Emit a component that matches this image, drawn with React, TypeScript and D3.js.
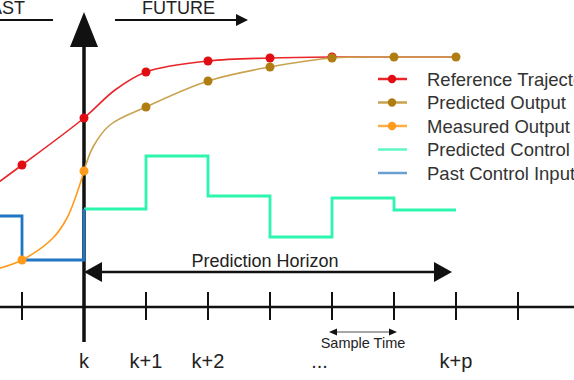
import React from "react";
import * as d3 from "d3";

const W = 574;
const H = 380;

// time grid (sample index relative to k)
const tickTimes = [-1, 0, 1, 2, 3, 4, 5, 6, 7];
const labelTimes = [0, 1, 2, 3.8, 6];
const labelTexts = ["k", "k+1", "k+2", "...", "k+p"];

// Reference trajectory (values in % of setpoint)
const refTimes = [-1.4, -1, 0, 0.5, 1, 2, 3, 4, 5, 6];
const refValues = [49.5, 56.8, 75.6, 86.8, 94, 98.4, 99.6, 100, 100, 100];
const refDotTimes = [-1, 0, 1, 2, 3, 4];
const refDotValues = [56.8, 75.6, 94, 98.4, 99.6, 100];

// Predicted output
const predTimes = [0, 0.145, 0.419, 1, 2, 3, 4, 5, 6];
const predValues = [54.4, 64, 72.8, 80, 90.4, 96, 99.6, 100, 100];
const predDotTimes = [1, 2, 3, 4, 5, 6];
const predDotValues = [80, 90.4, 96, 99.6, 100, 100];

// Measured output
const measTimes = [-1.4, -1, -0.5, -0.274, -0.113, 0];
const measValues = [15.2, 18.8, 27.6, 35.6, 45.6, 54.4];
const measDotTimes = [-1, 0];
const measDotValues = [18.8, 54.4];

// Predicted control (step, held from each time)
const ctrlTimes = [0, 1, 2, 3, 4, 5, 6];
const ctrlValues = [39.2, 60.4, 44.4, 28, 43.6, 38.8, 38.8];

// Past control input
const pastTimes = [-1.4, -1, 0];
const pastValues = [36.4, 18.8, 39.2];

const legendNames = [
  "Reference Trajectory",
  "Predicted Output",
  "Measured Output",
  "Predicted Control Input",
  "Past Control Input",
];
const legendLine = ["#e8262b", "#c9a24f", "#ffae45", "#5ff7c2", "#6a9fd2"];
const legendDot = ["#e00d12", "#b07d12", "#ff9a1a", "", ""];

const FONT = "'Liberation Sans', Arial, Helvetica, sans-serif";

export default function App() {
  const x = d3.scaleLinear().domain([-1, 7]).range([22, 518]);
  const y = d3.scaleLinear().domain([0, 100]).range([307, 57]);

  const smooth = d3
    .line<[number, number]>()
    .x((d) => x(d[0]))
    .y((d) => y(d[1]))
    .curve(d3.curveCatmullRom.alpha(0.5));
  const step = d3
    .line<[number, number]>()
    .x((d) => x(d[0]))
    .y((d) => y(d[1]))
    .curve(d3.curveStepAfter);

  const zip = (a: number[], b: number[]) => a.map((t, i) => [t, b[i]] as [number, number]);

  const x0 = x(0);
  const axisY = y(0);
  const phY = 272;

  return (
    <svg
      width={W}
      height={H}
      style={{ position: "absolute", left: 0, top: 0, background: "#fff" }}
      fontFamily={FONT}
    >
      <rect width={W} height={H} fill="#fff" />
      {/* PAST / FUTURE header */}
      <text x={25} y={14} fontSize={18} textAnchor="end" fill="#222">PAST</text>
      <line x1={0} x2={53} y1={20} y2={20} stroke="#111" strokeWidth={2} />
      <text x={142} y={14} fontSize={18} fill="#222">FUTURE</text>
      <line x1={115} x2={240} y1={20} y2={20} stroke="#111" strokeWidth={2} />
      <polygon points="248,20 236,14 236,26" fill="#111" />

      {/* time axis */}
      <line x1={0} x2={W} y1={axisY} y2={axisY} stroke="#111" strokeWidth={2.5} />
      {tickTimes.map((t) => (
        <line key={t} x1={x(t)} x2={x(t)} y1={292} y2={320} stroke="#111" strokeWidth={2} />
      ))}
      {labelTimes.map((t, i) => (
        <text key={i} x={x(t)} y={368} fontSize={20} textAnchor="middle" fill="#222">
          {labelTexts[i]}
        </text>
      ))}

      {/* vertical axis at k */}
      <line x1={x0} x2={x0} y1={44} y2={342} stroke="#111" strokeWidth={3.5} />
      <polygon points={`${x0},12 ${x0 - 14},47 ${x0 + 14},47`} fill="#111" />

      {/* sample time */}
      <line x1={x(4) + 4} x2={x(5) - 4} y1={332} y2={332} stroke="#888" strokeWidth={1.5} />
      <polygon points={`${x(4) - 3},332 ${x(4) + 5},328.5 ${x(4) + 5},335.5`} fill="#111" />
      <polygon points={`${x(5) + 3},332 ${x(5) - 5},328.5 ${x(5) - 5},335.5`} fill="#111" />
      <text x={(x(4) + x(5)) / 2} y={348} fontSize={14.5} textAnchor="middle" fill="#222">
        Sample Time
      </text>

      {/* prediction horizon */}
      <line x1={x0 + 14} x2={x(6) - 14} y1={phY} y2={phY} stroke="#111" strokeWidth={2.5} />
      <polygon points={`${x0},${phY} ${x0 + 18},${phY - 10} ${x0 + 18},${phY + 10}`} fill="#111" />
      <polygon
        points={`${x(6) - 4},${phY} ${x(6) - 22},${phY - 10} ${x(6) - 22},${phY + 10}`}
        fill="#111"
      />
      <text x={265} y={267} fontSize={18} textAnchor="middle" fill="#222">
        Prediction Horizon
      </text>

      {/* control signals */}
      <path d={step(zip(ctrlTimes, ctrlValues)) || ""} fill="none" stroke="#2cf5ad" strokeWidth={2.8} />
      <path d={step(zip(pastTimes, pastValues)) || ""} fill="none" stroke="#1f77c4" strokeWidth={2.8} />

      {/* outputs */}
      <path d={smooth(zip(refTimes, refValues)) || ""} fill="none" stroke="#e8262b" strokeWidth={1.6} />
      {refDotTimes.map((t, i) => (
        <circle key={"r" + i} cx={x(t)} cy={y(refDotValues[i])} r={4.5} fill="#e00d12" />
      ))}
      <path d={smooth(zip(predTimes, predValues)) || ""} fill="none" stroke="#c9a24f" strokeWidth={1.6} />
      {predDotTimes.map((t, i) => (
        <circle key={"p" + i} cx={x(t)} cy={y(predDotValues[i])} r={4.5} fill="#b07d12" />
      ))}
      <path d={smooth(zip(measTimes, measValues)) || ""} fill="none" stroke="#ff9a1a" strokeWidth={1.6} />
      {measDotTimes.map((t, i) => (
        <circle key={"m" + i} cx={x(t)} cy={y(measDotValues[i])} r={4.5} fill="#ff9a1a" />
      ))}

      {/* legend */}
      {legendNames.map((name, i) => {
        const ly = 79 + i * 23.5;
        return (
          <g key={name}>
            <line x1={378} x2={407} y1={ly} y2={ly} stroke={legendLine[i]} strokeWidth={2.5} />
            {legendDot[i] && <circle cx={392} cy={ly} r={4.2} fill={legendDot[i]} />}
            <text x={427} y={ly + 6.5} fontSize={18.5} fill="#333">
              {name}
            </text>
          </g>
        );
      })}
    </svg>
  );
}
